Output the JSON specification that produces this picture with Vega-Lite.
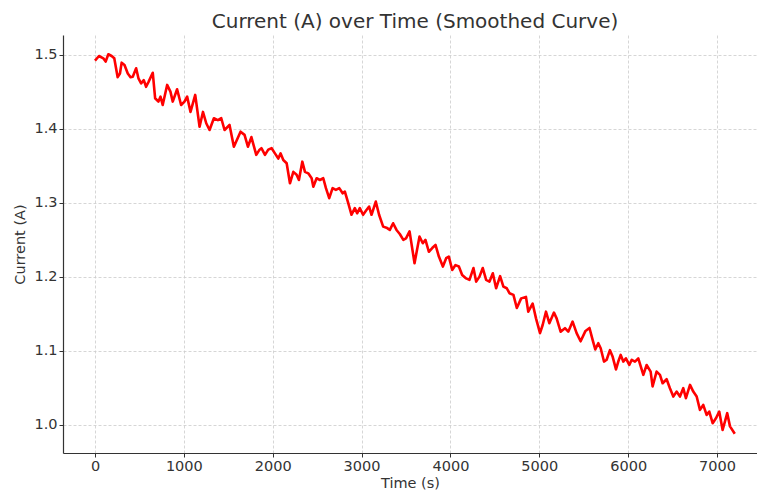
{
  "$schema": "https://vega.github.io/schema/vega-lite/v6.json",
  "width": 694,
  "height": 418,
  "autosize": {"type": "none"},
  "padding": {"left": 63, "top": 35, "right": 0, "bottom": 41},
  "background": "white",
  "title": {"text": "Current (A) over Time (Smoothed Curve)", "fontSize": 20, "font": "DejaVu Sans", "fontWeight": "normal", "color": "#333333", "offset": 3, "anchor": "middle", "dx": 5},
  "config": {
    "view": {"stroke": null},
    "axis": {"labelFont": "DejaVu Sans", "titleFont": "DejaVu Sans", "labelFontSize": 14.5, "titleFontSize": 14.5, "titleFontWeight": "normal", "labelColor": "#333333", "titleColor": "#333333", "domainColor": "#333333", "domainWidth": 1.2, "tickColor": "#333333", "tickSize": 4, "gridColor": "#cccccc", "gridDash": [3, 2], "gridWidth": 0.8}
  },
  "data": {"values": [
    {"t": 0, "c": 1.4923}, {"t": 45, "c": 1.4986}, {"t": 94, "c": 1.4955}, {"t": 120, "c": 1.491}, {"t": 150, "c": 1.501},
    {"t": 187, "c": 1.4986}, {"t": 217, "c": 1.4955}, {"t": 255, "c": 1.47}, {"t": 281, "c": 1.475}, {"t": 300, "c": 1.4896},
    {"t": 332, "c": 1.4865}, {"t": 369, "c": 1.475}, {"t": 400, "c": 1.47}, {"t": 425, "c": 1.4707}, {"t": 463, "c": 1.482},
    {"t": 489, "c": 1.4685}, {"t": 519, "c": 1.4617}, {"t": 549, "c": 1.466}, {"t": 575, "c": 1.457}, {"t": 604, "c": 1.464},
    {"t": 650, "c": 1.476}, {"t": 677, "c": 1.4415}, {"t": 714, "c": 1.437}, {"t": 737, "c": 1.4437}, {"t": 762, "c": 1.4324},
    {"t": 812, "c": 1.4595}, {"t": 849, "c": 1.4504}, {"t": 875, "c": 1.437}, {"t": 924, "c": 1.4536}, {"t": 969, "c": 1.4324},
    {"t": 1007, "c": 1.437}, {"t": 1037, "c": 1.4437}, {"t": 1075, "c": 1.423}, {"t": 1128, "c": 1.446}, {"t": 1177, "c": 1.403},
    {"t": 1215, "c": 1.423}, {"t": 1252, "c": 1.4077}, {"t": 1289, "c": 1.3986}, {"t": 1338, "c": 1.4145}, {"t": 1383, "c": 1.412},
    {"t": 1421, "c": 1.4145}, {"t": 1458, "c": 1.3986}, {"t": 1514, "c": 1.4054}, {"t": 1563, "c": 1.376}, {"t": 1638, "c": 1.3963},
    {"t": 1683, "c": 1.392}, {"t": 1721, "c": 1.376}, {"t": 1760, "c": 1.389}, {"t": 1815, "c": 1.365}, {"t": 1852, "c": 1.372},
    {"t": 1873, "c": 1.374}, {"t": 1913, "c": 1.365}, {"t": 1950, "c": 1.372}, {"t": 1988, "c": 1.374}, {"t": 2025, "c": 1.367},
    {"t": 2063, "c": 1.36}, {"t": 2089, "c": 1.367}, {"t": 2119, "c": 1.358}, {"t": 2157, "c": 1.3536}, {"t": 2194, "c": 1.3266},
    {"t": 2232, "c": 1.342}, {"t": 2269, "c": 1.338}, {"t": 2295, "c": 1.331}, {"t": 2333, "c": 1.3558}, {"t": 2363, "c": 1.342},
    {"t": 2400, "c": 1.34}, {"t": 2438, "c": 1.3334}, {"t": 2457, "c": 1.322}, {"t": 2494, "c": 1.3334}, {"t": 2531, "c": 1.331},
    {"t": 2569, "c": 1.3334}, {"t": 2599, "c": 1.32}, {"t": 2636, "c": 1.3064}, {"t": 2674, "c": 1.32}, {"t": 2711, "c": 1.3176},
    {"t": 2749, "c": 1.32}, {"t": 2787, "c": 1.313}, {"t": 2812, "c": 1.3153}, {"t": 2850, "c": 1.2996}, {"t": 2887, "c": 1.284},
    {"t": 2924, "c": 1.293}, {"t": 2950, "c": 1.286}, {"t": 2980, "c": 1.293}, {"t": 3017, "c": 1.284}, {"t": 3055, "c": 1.2905},
    {"t": 3085, "c": 1.295}, {"t": 3112, "c": 1.284}, {"t": 3160, "c": 1.3018}, {"t": 3197, "c": 1.284}, {"t": 3243, "c": 1.268},
    {"t": 3288, "c": 1.266}, {"t": 3318, "c": 1.2635}, {"t": 3355, "c": 1.2725}, {"t": 3393, "c": 1.2635}, {"t": 3430, "c": 1.258},
    {"t": 3470, "c": 1.25}, {"t": 3500, "c": 1.252}, {"t": 3540, "c": 1.2615}, {"t": 3596, "c": 1.2185}, {"t": 3652, "c": 1.2545},
    {"t": 3689, "c": 1.2455}, {"t": 3719, "c": 1.25}, {"t": 3757, "c": 1.234}, {"t": 3795, "c": 1.239}, {"t": 3832, "c": 1.2432},
    {"t": 3870, "c": 1.2275}, {"t": 3915, "c": 1.214}, {"t": 3952, "c": 1.2253}, {"t": 3982, "c": 1.2275}, {"t": 4020, "c": 1.2095},
    {"t": 4057, "c": 1.216}, {"t": 4095, "c": 1.214}, {"t": 4132, "c": 1.2027}, {"t": 4177, "c": 1.198}, {"t": 4214, "c": 1.196},
    {"t": 4259, "c": 1.212}, {"t": 4290, "c": 1.1936}, {"t": 4327, "c": 1.2004}, {"t": 4364, "c": 1.212}, {"t": 4402, "c": 1.196},
    {"t": 4439, "c": 1.1936}, {"t": 4477, "c": 1.205}, {"t": 4514, "c": 1.1847}, {"t": 4559, "c": 1.201}, {"t": 4596, "c": 1.187},
    {"t": 4634, "c": 1.1847}, {"t": 4664, "c": 1.178}, {"t": 4709, "c": 1.1757}, {"t": 4747, "c": 1.158}, {"t": 4796, "c": 1.171},
    {"t": 4850, "c": 1.173}, {"t": 4876, "c": 1.153}, {"t": 4925, "c": 1.164}, {"t": 4963, "c": 1.144}, {"t": 5008, "c": 1.124},
    {"t": 5038, "c": 1.135}, {"t": 5075, "c": 1.153}, {"t": 5113, "c": 1.1375}, {"t": 5165, "c": 1.1518}, {"t": 5195, "c": 1.144},
    {"t": 5240, "c": 1.126}, {"t": 5289, "c": 1.1307}, {"t": 5326, "c": 1.126}, {"t": 5375, "c": 1.1396}, {"t": 5420, "c": 1.124},
    {"t": 5465, "c": 1.113}, {"t": 5520, "c": 1.127}, {"t": 5565, "c": 1.131}, {"t": 5600, "c": 1.115}, {"t": 5630, "c": 1.102},
    {"t": 5664, "c": 1.1104}, {"t": 5691, "c": 1.1036}, {"t": 5728, "c": 1.0856}, {"t": 5758, "c": 1.088}, {"t": 5795, "c": 1.101},
    {"t": 5826, "c": 1.092}, {"t": 5863, "c": 1.075}, {"t": 5889, "c": 1.0856}, {"t": 5916, "c": 1.0946}, {"t": 5945, "c": 1.0856},
    {"t": 5975, "c": 1.09}, {"t": 6013, "c": 1.081}, {"t": 6040, "c": 1.088}, {"t": 6077, "c": 1.0856}, {"t": 6114, "c": 1.09},
    {"t": 6171, "c": 1.0676}, {"t": 6208, "c": 1.081}, {"t": 6253, "c": 1.072}, {"t": 6275, "c": 1.052}, {"t": 6320, "c": 1.072},
    {"t": 6358, "c": 1.0676}, {"t": 6388, "c": 1.0563}, {"t": 6433, "c": 1.0617}, {"t": 6470, "c": 1.0496}, {"t": 6508, "c": 1.0383},
    {"t": 6545, "c": 1.045}, {"t": 6583, "c": 1.0383}, {"t": 6620, "c": 1.0496}, {"t": 6650, "c": 1.0361}, {"t": 6696, "c": 1.054},
    {"t": 6733, "c": 1.045}, {"t": 6771, "c": 1.0383}, {"t": 6808, "c": 1.0203}, {"t": 6845, "c": 1.027}, {"t": 6883, "c": 1.0135},
    {"t": 6913, "c": 1.018}, {"t": 6951, "c": 1.0023}, {"t": 6988, "c": 1.009}, {"t": 7025, "c": 1.018}, {"t": 7063, "c": 0.9932},
    {"t": 7089, "c": 1.0045}, {"t": 7115, "c": 1.0158}, {"t": 7146, "c": 0.998}, {"t": 7200, "c": 0.988}
  ]},
  "mark": {"type": "line", "color": "#ff0000", "strokeWidth": 2.6, "strokeJoin": "round", "clip": true},
  "encoding": {
    "x": {"field": "t", "type": "quantitative", "title": "Time (s)",
      "scale": {"domain": [-360, 7450], "nice": false, "zero": false},
      "axis": {"values": [0, 1000, 2000, 3000, 4000, 5000, 6000, 7000], "format": "d", "labelPadding": 2, "titlePadding": 4}},
    "y": {"field": "c", "type": "quantitative", "title": "Current (A)",
      "scale": {"domain": [0.962, 1.527], "nice": false, "zero": false},
      "axis": {"values": [1.0, 1.1, 1.2, 1.3, 1.4, 1.5], "format": ".1f", "labelPadding": 2, "titlePadding": 6}}
  }
}
